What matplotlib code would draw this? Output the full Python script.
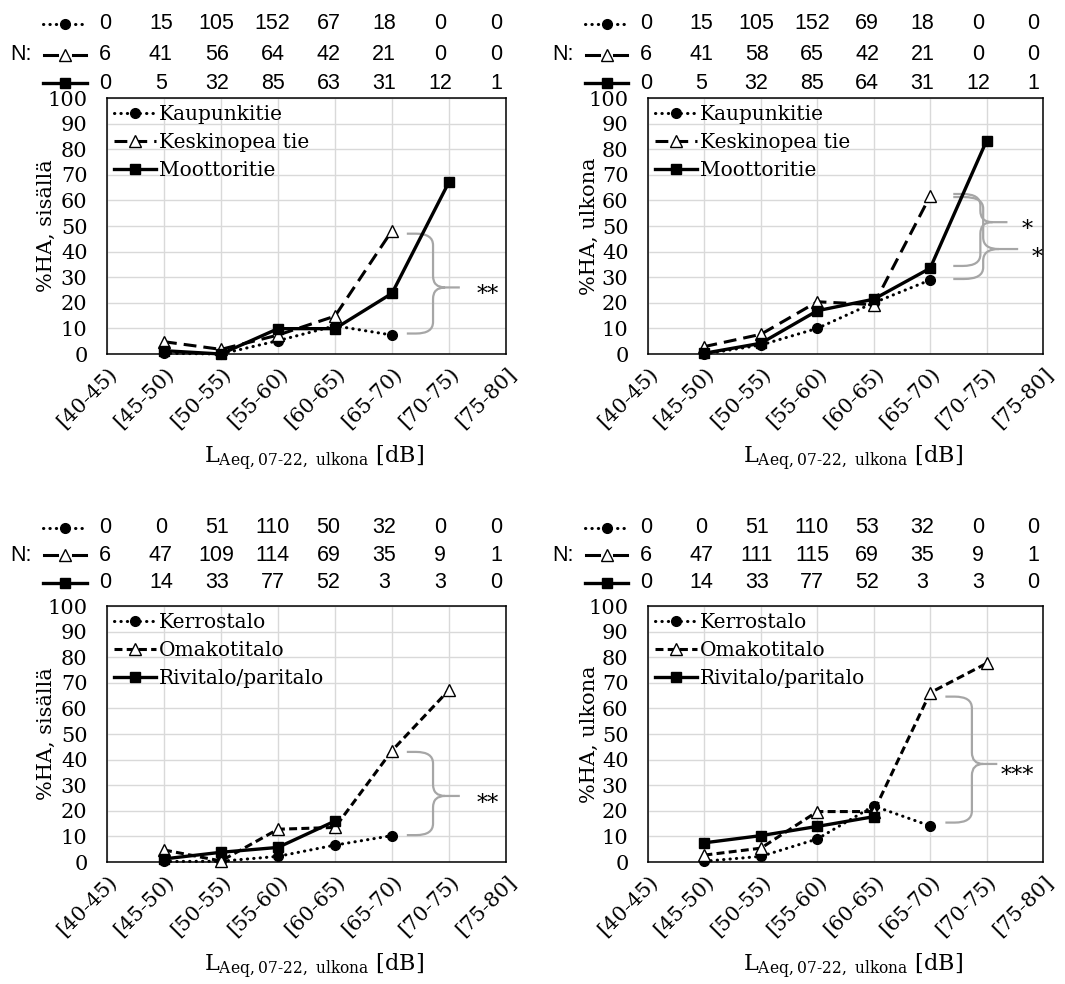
import numpy as np
import matplotlib
matplotlib.use('Agg')
import matplotlib.pyplot as plt
import matplotlib.transforms as mtransforms
from matplotlib.path import Path
from matplotlib.patches import PathPatch

plt.rcParams['font.family'] = ['DejaVu Serif']
plt.rcParams['mathtext.fontset'] = 'dejavuserif'

nan = np.nan
categories = ['[40-45)', '[45-50)', '[50-55)', '[55-60)', '[60-65)', '[65-70)', '[70-75)', '[75-80]']

# tietyyppi (ylarivi)
labels_road = ['Kaupunkitie', 'Keskinopea tie', 'Moottoritie']
ha_road_sisalla = [
    [nan, 0.3, 0.0, 5.2, 11.0, 7.4, nan, nan],
    [nan, 4.8, 1.8, 7.4, 14.8, 48.2, nan, nan],
    [nan, 1.3, 0.0, 9.9, 9.9, 23.7, 67.2, nan],
]
n_road_sisalla = [
    [0, 15, 105, 152, 67, 18, 0, 0],
    [6, 41, 56, 64, 42, 21, 0, 0],
    [0, 5, 32, 85, 63, 31, 12, 1],
]
ha_road_ulkona = [
    [nan, 0.0, 3.5, 10.0, 20.0, 28.9, nan, nan],
    [nan, 2.9, 7.7, 20.4, 19.3, 61.7, nan, nan],
    [nan, 0.3, 4.2, 16.9, 21.4, 33.5, 83.3, nan],
]
n_road_ulkona = [
    [0, 15, 105, 152, 69, 18, 0, 0],
    [6, 41, 58, 65, 42, 21, 0, 0],
    [0, 5, 32, 85, 64, 31, 12, 1],
]

# talotyyppi (alarivi)
labels_house = ['Kerrostalo', 'Omakotitalo', 'Rivitalo/paritalo']
ha_house_sisalla = [
    [nan, 0.2, 0.3, 2.2, 6.6, 10.3, nan, nan],
    [nan, 4.7, 0.4, 12.8, 13.5, 43.5, 67.2, nan],
    [nan, 1.2, 3.8, 5.7, 16.0, nan, nan, nan],
]
n_house_sisalla = [
    [0, 0, 51, 110, 50, 32, 0, 0],
    [6, 47, 109, 114, 69, 35, 9, 1],
    [0, 14, 33, 77, 52, 3, 3, 0],
]
ha_house_ulkona = [
    [nan, 0.3, 2.2, 9.0, 21.9, 14.1, nan, nan],
    [nan, 2.7, 5.4, 19.7, 19.7, 66.1, 77.6, nan],
    [nan, 7.5, 10.3, 13.9, 17.7, nan, nan, nan],
]
n_house_ulkona = [
    [0, 0, 51, 110, 53, 32, 0, 0],
    [6, 47, 111, 115, 69, 35, 9, 1],
    [0, 14, 33, 77, 52, 3, 3, 0],
]

# aaltosulkeet: x0, xm, xt, ylä, ala, kärki, tähdet, tähtien x, tähtien y
braces_tl = [(5.26, 5.72, 6.19, 47, 8, 26, '**', 6.68, 26)]
braces_tr = [(5.41, 5.89, 6.37, 62.5, 34.4, 51.5, '*', 6.72, 51.5),
             (5.41, 5.94, 6.56, 61.3, 29.3, 41, '*', 6.90, 40.5)]
braces_bl = [(5.26, 5.72, 6.19, 43, 10.5, 25.8, '**', 6.68, 25.5)]
braces_br = [(5.27, 5.74, 6.19, 64.6, 15.4, 38.3, '***', 6.54, 36.5)]

W, H = 1065, 984
fig = plt.figure(figsize=(W / 100, H / 100), dpi=100)


def px_axes(left, top, right, bottom):
    return fig.add_axes([left / W, (H - bottom) / H, (right - left) / W, (bottom - top) / H])


def styles(short_dash):
    dash = (2.6, 1.4) if short_dash else (4.2, 2.3)
    return [
        dict(ls=(0, (0.1, 2.0)), dash_capstyle='round', lw=2.2, marker='o', ms=7,
             mfc='black', mec='black'),
        dict(ls=(0, dash), lw=2.2, marker='^', ms=8, mfc='white', mec='black', mew=1.0),
        dict(ls='-', lw=2.4, marker='s', ms=7, mfc='black', mec='black'),
    ]


def brace(ax, x0, xm, xt, yt, yb, ytip, r=4.5):
    a = x0 + 0.35 * (xm - x0)
    b = xm + 0.45 * (xt - xm)
    verts = [(x0, yt), (a, yt), (xm, yt), (xm, yt - r), (xm, ytip + r), (xm, ytip), (b, ytip), (xt, ytip),
             (b, ytip), (xm, ytip), (xm, ytip - r), (xm, yb + r), (xm, yb), (a, yb), (x0, yb)]
    codes = [Path.MOVETO, Path.LINETO, Path.CURVE3, Path.CURVE3, Path.LINETO, Path.CURVE3, Path.CURVE3,
             Path.LINETO, Path.MOVETO, Path.CURVE3, Path.CURVE3, Path.LINETO, Path.CURVE3, Path.CURVE3,
             Path.LINETO]
    ax.add_patch(PathPatch(Path(verts, codes), fc='none', ec='#a6a6a6', lw=1.6, clip_on=False, zorder=4))


def panel(ax, values, labels, counts, ylabel, short_dash, braces, row_y, ylab_x):
    x = np.arange(len(categories))
    st = styles(short_dash)
    for vals, lab, s in zip(values, labels, st):
        ax.plot(x, vals, color='black', label=lab, clip_on=False, zorder=5, **s)
    ax.set_xlim(0, 7)
    ax.set_ylim(0, 100)
    ax.set_yticks(np.arange(0, 101, 10))
    ax.set_xticks(x)
    ax.set_xticklabels(categories, rotation=45, ha='right', va='center', rotation_mode='anchor')
    ax.tick_params(length=0, labelsize=15)
    ax.tick_params(axis='y', pad=14)
    ax.tick_params(axis='x', pad=12)
    shift = mtransforms.ScaledTranslation(7 / 100, 0, fig.dpi_scale_trans)
    for lab in ax.get_xticklabels():
        lab.set_transform(lab.get_transform() + shift)
    ax.grid(True, color='#d9d9d9', lw=1.0)
    ax.set_axisbelow(True)
    for sp in ax.spines.values():
        sp.set_linewidth(1.1)
    ax.set_ylabel(ylabel, fontsize=15, va='center')
    ax.yaxis.set_label_coords(ylab_x, 0.5)
    ax.set_xlabel(r'$\mathrm{L_{Aeq,07\text{-}22,\ ulkona}}$ [dB]', fontsize=16, va='center')
    ax.xaxis.set_label_coords(0.52, -104 / 256)
    ax.legend(loc='upper left', frameon=False, fontsize=14.5, handlelength=2.1, handletextpad=0.15,
              labelspacing=0.45, borderaxespad=0.15, borderpad=0.2)
    for (x0, xm, xt, yt, yb, ytip, stars, sx, sy) in braces:
        brace(ax, x0, xm, xt, yt, yb, ytip)
        ax.text(sx, sy - 3, stars, fontsize=16, ha='center', va='center', zorder=6)

    # N-taulukko akselin yläpuolella
    for row, (cnt, s, yy) in enumerate(zip(counts, st, row_y)):
        if row == 1:
            # katkoviiva: yksi viiva kummallakin puolella
            for xa, xb in [(-0.158, -0.125), (-0.085, -0.052)]:
                ax.plot([xa, xb], [yy, yy], transform=ax.transAxes, clip_on=False, color='black',
                        ls='-', lw=s['lw'])
        else:
            ax.plot([-0.16, -0.05], [yy, yy], transform=ax.transAxes, clip_on=False, color='black',
                    ls=s['ls'], lw=s['lw'], dash_capstyle=s.get('dash_capstyle', 'butt'))
        ax.plot([-0.105], [yy], transform=ax.transAxes, clip_on=False, color='black', ls='none',
                marker=s['marker'], ms=s['ms'], mfc=s['mfc'], mec=s['mec'], mew=s.get('mew', 1.0))
        for k, n in enumerate(cnt):
            ax.text(-0.005 + k * 0.14, yy, str(n), transform=ax.transAxes, ha='center', va='center',
                    fontsize=15.5, family='Liberation Sans')
    ax.text(-0.215, row_y[1], 'N:', transform=ax.transAxes, ha='center', va='center',
            fontsize=15.5, family='Liberation Sans')


ax1 = px_axes(107, 98, 506, 354)
ax2 = px_axes(648, 98, 1043, 354)
ax3 = px_axes(107, 606, 506, 862)
ax4 = px_axes(648, 606, 1043, 862)

rows_top = [1.29, 1.168, 1.058]
rows_bot = [1.305, 1.198, 1.09]

panel(ax1, ha_road_sisalla, labels_road, n_road_sisalla, '%HA, sisällä', False, braces_tl, rows_top, -61 / 399)
panel(ax2, ha_road_ulkona, labels_road, n_road_ulkona, '%HA, ulkona', False, braces_tr, rows_top, -59 / 395)
panel(ax3, ha_house_sisalla, labels_house, n_house_sisalla, '%HA, sisällä', True, braces_bl, rows_bot, -61 / 399)
panel(ax4, ha_house_ulkona, labels_house, n_house_ulkona, '%HA, ulkona', True, braces_br, rows_bot, -59 / 395)

fig.savefig('out.png', dpi=100)
